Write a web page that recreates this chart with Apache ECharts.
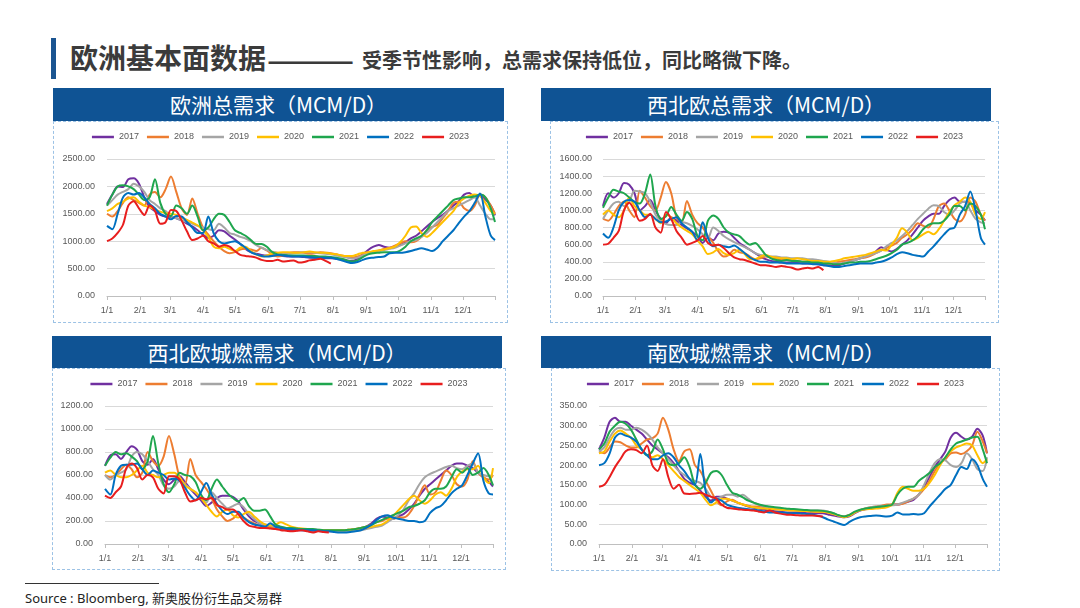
<!DOCTYPE html>
<html><head><meta charset="utf-8">
<script src="https://cdn.jsdelivr.net/npm/echarts@6/dist/echarts.min.js"></script>
<style>
html,body{margin:0;padding:0;background:#fff;width:1080px;height:608px;overflow:hidden;font-family:"Noto Sans CJK SC","Noto Sans",sans-serif;}
.abs{position:absolute;}
.bar{left:51px;top:38px;width:5px;height:41px;background:#1b5591;}
.t1{left:70px;top:41px;font-size:28px;font-weight:700;color:#3b3b3b;line-height:32px;white-space:nowrap;}
.dash{display:inline-block;transform:translateY(2px) scaleX(1.87);transform-origin:left center;}
.t2{left:362px;top:47px;font-size:20px;font-weight:700;color:#3b3b3b;line-height:26px;white-space:nowrap;}
.hdr{background:#0f5394;color:#fff;font-size:21px;text-align:center;line-height:33px;white-space:nowrap;}
.box{border:1px dashed #9cc2e5;box-sizing:border-box;}
.src{left:25px;top:589px;font-size:13px;font-weight:400;color:#222;line-height:18px;white-space:nowrap;font-family:"Noto Sans","Noto Sans CJK SC",sans-serif;}
.srcline{left:25px;top:583px;width:134px;height:1px;background:#333;}
</style></head>
<body>
<div class="abs bar"></div>
<div class="abs t1">欧洲基本面数据<span class="dash">——</span></div>
<div class="abs t2">受季节性影响，总需求保持低位，同比略微下降。</div>

<div class="abs hdr" style="left:53px;top:88px;width:451px;height:33px;">欧洲总需求（MCM/D）</div>
<div class="abs hdr" style="left:541px;top:88px;width:450px;height:33px;">西北欧总需求（MCM/D）</div>
<div class="abs hdr" style="left:52px;top:336px;width:450px;height:32px;line-height:32px;">西北欧城燃需求（MCM/D）</div>
<div class="abs hdr" style="left:541px;top:336px;width:450px;height:32px;line-height:32px;">南欧城燃需求（MCM/D）</div>

<div id="p1" class="abs box" style="left:53px;top:121px;width:455px;height:202px;"></div>
<div id="p2" class="abs box" style="left:550px;top:121px;width:449px;height:202px;"></div>
<div id="p3" class="abs box" style="left:52px;top:368px;width:454px;height:202px;"></div>
<div id="p4" class="abs box" style="left:551px;top:368px;width:449px;height:203px;"></div>

<div class="abs srcline"></div>
<div class="abs src">Source : Bloomberg, 新奥股份衍生品交易群</div>

<script>
// ---- shared axis data ----
const years = ['2017','2018','2019','2020','2021','2022','2023'];
const yearColors = ['#7030a0','#ed7d31','#a5a5a5','#ffc000','#1fa64e','#0070c0','#e81e1e'];
const monthStarts = [0,31,59,90,120,151,181,212,243,273,304,334];
const monthLabels = ['1/1','2/1','3/1','4/1','5/1','6/1','7/1','8/1','9/1','10/1','11/1','12/1'];
const tickDays = [0,31,59,90,120,151,181,212,243,273,304,334,364];
const sampleDays = [0,5,10,15,20,25,30,35,40,45,50,55,60,65,70,75,80,85,90,95,100,105,110,115,120,125,130,135,140,145,150,155,160,165,170,175,180,185,190,195,200,205,210,215,220,225,230,235,240,245,250,255,260,265,270,275,280,285,290,295,300,305,310,315,320,325,330,335,340,345,350,355,360,364];

// ---- 欧洲总需求 ----
const eu2017 = [1680,1850,2000,1990,2130,2150,2050,1800,1620,1550,1480,1450,1440,1420,1380,1320,1270,1200,1120,1060,1100,1200,1180,1100,1030,950,860,800,770,750,740,740,730,730,720,720,720,710,700,700,700,690,690,680,670,650,640,680,760,840,900,930,900,880,900,930,980,1050,1100,1180,1270,1350,1420,1480,1560,1650,1730,1850,1880,1800,1830,1760,1650,1470];
const eu2018 = [1500,1450,1550,1700,1800,1750,1700,1650,1850,1900,1800,1950,2180,1900,1600,1480,1780,1500,1250,1120,1000,900,820,780,800,850,860,850,820,880,830,760,720,740,780,800,800,790,770,780,800,790,780,760,740,720,700,720,760,790,810,830,860,880,920,960,1000,980,1000,1080,1200,1260,1300,1420,1550,1700,1720,1600,1550,1650,1850,1800,1650,1500];
const eu2019 = [1650,1750,1850,1900,1950,2050,2000,1900,1750,1680,1600,1550,1450,1420,1380,1350,1320,1280,1250,1220,1200,1320,1250,1150,1120,1080,1050,1000,930,880,840,810,790,780,770,780,790,800,800,790,780,770,760,740,720,700,680,700,740,780,800,820,840,860,880,920,960,1000,1020,1080,1150,1250,1350,1450,1550,1600,1650,1700,1750,1800,1650,1500,1400,1400];
const eu2020 = [1550,1600,1680,1720,1780,1800,1720,1650,1620,1580,1540,1510,1500,1480,1430,1390,1340,1290,1200,1080,900,870,900,860,820,880,900,820,760,720,740,780,790,800,800,790,790,800,810,800,790,790,770,760,740,730,730,760,790,800,820,830,850,870,900,980,1100,1250,1270,1150,1080,1150,1250,1350,1450,1550,1700,1780,1830,1850,1820,1700,1550,1500];
const eu2021 = [1650,1850,2000,2020,2000,1950,1850,1750,1800,2130,1700,1500,1460,1650,1600,1500,1650,1450,1200,1250,1400,1500,1480,1350,1200,1150,1100,1020,950,950,900,800,760,750,740,740,740,740,730,730,720,720,710,700,680,650,630,650,710,760,780,790,800,800,800,830,900,1000,1050,1100,1200,1350,1450,1550,1650,1750,1780,1800,1800,1820,1850,1800,1600,1350];
const eu2022 = [1280,1220,1500,1800,1880,1850,1880,1800,1680,1600,1500,1450,1400,1460,1450,1350,1250,1150,1150,1450,1150,1000,960,980,1000,950,880,800,760,730,720,730,750,740,730,720,720,720,710,700,700,700,700,680,650,620,600,620,660,690,700,710,720,780,790,790,800,820,850,870,850,820,880,1000,1100,1200,1330,1450,1550,1700,1870,1450,1100,1020];
const eu2023 = [1000,1050,1150,1300,1650,1730,1600,1480,1650,1550,1320,1350,1570,1550,1380,1180,1020,1050,1100,1000,960,900,930,900,820,750,730,720,700,660,640,640,660,630,640,650,610,620,650,660,680,640,590];

// ---- 西北欧总需求 ----
const nwt2017 = [1050,1200,1150,1200,1320,1300,1200,1000,1050,1120,1000,900,850,920,880,830,790,750,700,620,680,650,730,750,740,680,620,580,540,500,460,430,410,400,390,390,390,390,380,380,380,370,360,360,350,360,380,400,420,440,460,480,520,570,540,520,550,600,650,720,800,880,930,960,960,1050,1120,1150,1100,1100,1080,1000,950,880];
const nwt2018 = [900,880,950,1050,1100,1000,920,1230,1150,1050,1000,1150,1330,1200,920,860,1110,950,850,800,700,620,520,460,480,540,510,500,460,430,440,460,450,440,430,430,420,410,400,400,390,390,380,380,390,400,410,420,430,440,450,470,500,530,560,590,620,680,720,780,850,820,800,900,1050,1080,1000,900,870,950,1150,1100,950,880];
const nwt2019 = [900,1000,1080,1100,1050,1100,1230,1220,1200,1100,950,880,840,830,830,860,850,820,780,720,680,800,760,700,660,630,600,570,540,500,480,470,460,460,450,450,440,440,440,430,430,420,410,400,390,380,390,400,420,440,460,480,500,530,580,620,650,700,760,830,900,960,1020,1060,1050,980,950,1000,1080,1100,1000,900,860,850];
const nwt2020 = [950,1000,950,920,1000,1150,1050,1000,950,950,900,850,950,920,850,800,760,720,650,580,490,510,550,500,480,500,540,490,430,430,460,480,460,450,440,440,430,440,430,420,410,410,400,400,410,420,440,450,460,470,480,500,520,540,530,600,680,790,740,650,680,720,750,720,780,880,980,1060,1100,1150,1100,950,900,980];
const nwt2021 = [1030,1150,1240,1220,1200,1150,1100,1080,1200,1420,1050,900,930,1040,950,880,980,900,700,650,880,940,900,800,740,720,700,640,600,620,560,480,440,420,410,420,410,410,400,400,390,390,380,380,370,370,380,390,390,400,400,410,430,450,470,500,540,600,620,650,700,780,830,850,850,880,950,1050,1050,1000,1080,1050,950,780];
const nwt2022 = [730,680,800,1000,1100,1120,1100,1000,920,950,900,860,870,900,920,850,800,750,650,860,680,580,600,580,570,590,550,500,450,420,400,400,390,390,390,380,380,380,380,380,370,370,360,350,340,340,350,360,370,380,380,380,390,400,420,450,490,510,500,480,470,460,520,580,650,720,780,800,950,1050,1220,1000,680,600];
const nwt2023 = [600,610,680,760,1000,1090,1000,880,900,960,800,740,980,900,760,680,600,620,650,700,620,590,600,560,500,450,430,420,400,380,360,360,350,340,350,340,330,310,320,330,320,340,300];

// ---- 西北欧城燃需求 ----
const nwc2017 = [680,770,780,740,800,850,820,720,690,740,650,560,520,560,590,540,480,430,380,330,360,400,420,420,410,370,300,240,200,180,160,150,140,130,125,120,120,120,120,115,115,115,110,110,110,110,115,120,130,150,180,220,240,230,220,240,260,300,350,420,480,520,560,600,640,680,700,700,680,660,620,580,540,500];
const nwc2018 = [600,580,600,650,690,650,580,620,800,720,680,760,940,780,580,520,740,600,540,480,400,300,240,200,220,260,230,200,180,160,150,145,140,135,130,130,130,125,125,120,120,120,120,120,120,120,125,130,140,150,170,190,200,220,220,230,230,260,330,430,510,430,450,550,640,600,520,500,560,720,620,580,560,600];
const nwc2019 = [600,560,600,620,650,760,800,780,720,650,600,510,480,500,550,520,480,450,400,360,450,400,350,310,330,350,320,260,220,180,170,160,150,145,140,135,130,130,130,125,125,120,120,115,110,110,110,115,120,130,140,150,160,190,220,250,300,380,440,520,580,610,630,650,670,680,660,650,680,700,620,600,590,600];
const nwc2020 = [620,640,600,580,580,600,640,680,620,600,580,600,620,620,580,510,480,450,400,340,280,240,280,300,250,230,260,280,240,200,170,160,170,190,170,150,140,135,130,125,120,120,120,120,120,120,125,130,135,140,150,160,170,200,240,290,340,390,420,380,350,380,430,450,420,480,580,630,650,650,680,580,530,660];
const nwc2021 = [680,750,800,780,790,760,720,650,720,940,700,520,450,520,620,600,590,540,430,380,480,560,500,440,400,370,400,330,290,290,300,240,170,150,140,140,135,130,130,130,125,120,120,120,120,120,125,130,140,150,165,190,210,230,250,270,290,320,330,350,380,450,480,480,500,580,650,620,660,600,620,660,600,510];
const nwc2022 = [480,430,600,680,690,690,700,650,600,640,620,600,560,570,550,490,420,380,450,530,430,350,290,260,280,280,230,190,170,160,150,180,150,140,130,130,125,120,120,120,115,110,110,105,100,100,105,110,120,140,170,210,240,250,230,220,210,200,200,190,200,270,310,330,380,440,480,510,600,700,790,550,440,430];
const nwc2023 = [420,400,450,500,660,700,660,560,600,580,480,440,590,590,560,450,370,380,400,390,400,340,320,300,300,260,200,160,150,140,140,135,130,120,115,110,115,120,110,100,110,105,100];

// ---- 南欧城燃需求 ----
const sec2017 = [240,270,310,320,310,310,300,290,280,265,250,240,230,220,205,185,165,155,150,135,120,110,120,120,115,110,105,100,95,92,90,87,85,83,82,80,80,80,80,78,78,78,78,75,72,70,68,70,78,85,88,90,92,95,97,100,100,103,107,112,125,145,170,195,215,235,270,282,272,265,272,292,275,230];
const sec2018 = [235,230,245,260,258,250,245,245,255,265,268,280,320,290,240,210,235,240,200,185,160,135,110,98,108,112,105,100,97,95,95,94,92,90,88,87,86,85,84,83,82,82,82,80,76,72,70,74,80,86,90,93,95,97,100,100,100,102,108,115,125,140,160,185,205,215,230,232,228,235,250,285,260,230];
const sec2019 = [235,245,270,290,295,290,290,295,290,280,265,245,230,215,200,185,175,165,160,155,140,120,115,120,125,125,120,125,115,105,100,95,92,90,90,89,88,87,86,85,85,85,85,82,78,72,70,73,80,86,90,93,95,96,97,98,100,105,110,115,125,150,180,205,215,212,200,195,205,230,215,190,185,220];
const sec2020 = [230,235,260,280,288,280,270,250,240,225,220,225,215,200,185,170,160,150,140,130,112,98,105,115,115,110,105,100,96,93,91,90,89,88,87,86,85,85,84,84,83,82,82,80,76,72,68,72,80,86,88,89,90,91,93,100,130,145,140,135,135,140,155,175,200,220,235,245,250,255,250,225,205,215];
const sec2021 = [240,255,285,300,310,305,290,265,240,225,235,265,240,205,200,205,220,195,150,140,155,180,185,175,150,130,125,118,110,105,100,97,95,93,92,90,89,88,87,86,85,85,84,82,78,73,70,74,82,87,90,92,94,95,97,100,125,140,145,145,160,170,180,195,205,220,240,255,260,265,270,272,240,205];
const sec2022 = [200,205,230,270,280,275,270,260,240,225,215,215,225,230,220,200,185,165,150,228,135,105,115,110,100,95,92,90,88,87,85,82,80,80,80,79,78,78,77,76,75,72,68,62,57,52,48,56,63,68,70,71,72,71,70,72,80,75,75,76,75,78,95,110,125,140,150,175,195,190,215,200,165,145];
const sec2023 = [145,150,170,195,215,235,240,238,230,250,200,185,215,170,140,150,128,127,128,130,125,120,115,100,92,90,88,87,86,85,82,80,85,80,77,75,74,73,72,72,72,71,70];

const panels = [
  {id:'p1', max:2500, interval:500, grid:{left:53,right:12,top:37,bottom:26}, ylm:12, data:[eu2017,eu2018,eu2019,eu2020,eu2021,eu2022,eu2023]},
  {id:'p2', max:1600, interval:200, grid:{left:52,right:13,top:37,bottom:26}, ylm:11, data:[nwt2017,nwt2018,nwt2019,nwt2020,nwt2021,nwt2022,nwt2023]},
  {id:'p3', max:1200, interval:200, grid:{left:52,right:12,top:37,bottom:25}, ylm:12, data:[nwc2017,nwc2018,nwc2019,nwc2020,nwc2021,nwc2022,nwc2023]},
  {id:'p4', max:350, interval:50, grid:{left:47,right:12,top:37,bottom:26}, ylm:12, data:[sec2017,sec2018,sec2019,sec2020,sec2021,sec2022,sec2023]}
];
const fontFam = '"Liberation Sans", Arial, sans-serif';

panels.forEach(p => {
  const chart = echarts.init(document.getElementById(p.id), null, {renderer:'canvas'});
  chart.setOption({
    animation:false,
    color: yearColors,
    textStyle:{fontFamily:fontFam},
    legend:{
      top:4, left:'center', icon:'rect', itemWidth:22, itemHeight:2.5, itemGap:8,
      textStyle:{fontSize:9, color:'#595959', fontFamily:fontFam, lineHeight:12},
      data: years
    },
    grid: Object.assign({containLabel:false}, p.grid),
    xAxis:{
      type:'value', min:0, max:364,
      axisLine:{show:true, lineStyle:{color:'#bfbfbf', width:1}},
      axisTick:{show:true, length:4, customValues: tickDays, lineStyle:{color:'#bfbfbf'}},
      axisLabel:{customValues: monthStarts, fontSize:9, color:'#595959', margin:10, fontFamily:fontFam,
        formatter: v => monthLabels[monthStarts.indexOf(v)] || ''},
      splitLine:{show:false}
    },
    yAxis:{
      type:'value', min:0, max:p.max, interval:p.interval,
      axisLine:{show:false}, axisTick:{show:false},
      axisLabel:{fontSize:9, color:'#595959', margin:p.ylm, fontFamily:fontFam, formatter: v => v.toFixed(2)},
      splitLine:{lineStyle:{color:'#d9d9d9', width:1}}
    },
    series: years.map((y, i) => ({
      name:y, type:'line', showSymbol:false, smooth:0.3,
      lineStyle:{width:2},
      data: p.data[i].map((v, j) => [sampleDays[j], v])
    }))
  });
});
</script>
</body></html>
